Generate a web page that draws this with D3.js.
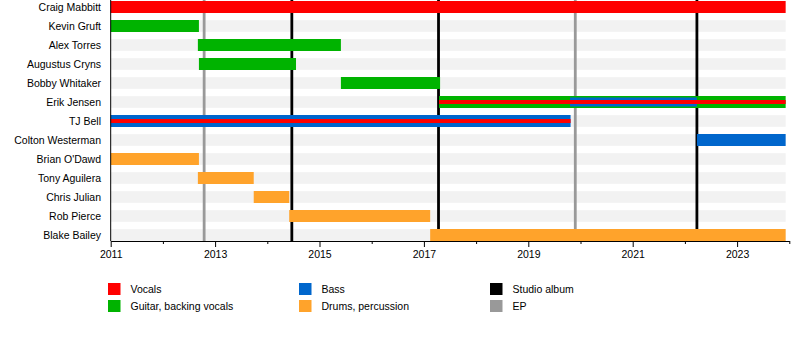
<!DOCTYPE html>
<html>
<head>
<meta charset="utf-8">
<script src="https://cdn.jsdelivr.net/npm/d3@7"></script>
<style>
  body { margin: 0; background: #fff; }
  svg { display: block; font-family: "Liberation Sans", Arial, sans-serif; }
</style>
</head>
<body>
<div id="chart"></div>
<script>
// members, top to bottom
const members = [
  "Craig Mabbitt", "Kevin Gruft", "Alex Torres", "Augustus Cryns", "Bobby Whitaker",
  "Erik Jensen", "TJ Bell", "Colton Westerman", "Brian O'Dawd", "Tony Aguilera",
  "Chris Julian", "Rob Pierce", "Blake Bailey"
];

// [member, from, till]
const vocals = [
  ["Craig Mabbitt", 2011, 2023.93],
  ["Erik Jensen", 2017.29, 2023.93],
  ["TJ Bell", 2011, 2019.81]
];
const guitar = [
  ["Kevin Gruft", 2011, 2012.69],
  ["Alex Torres", 2012.67, 2015.41],
  ["Augustus Cryns", 2012.69, 2014.55],
  ["Bobby Whitaker", 2015.41, 2017.31],
  ["Erik Jensen", 2017.29, 2023.93]
];
const bass = [
  ["Erik Jensen", 2019.80, 2022.23],
  ["TJ Bell", 2011, 2019.81],
  ["Colton Westerman", 2022.23, 2023.93]
];
const drums = [
  ["Brian O'Dawd", 2011, 2012.69],
  ["Tony Aguilera", 2012.67, 2013.74],
  ["Chris Julian", 2013.74, 2014.42],
  ["Rob Pierce", 2014.42, 2017.12],
  ["Blake Bailey", 2017.12, 2023.93]
];

const studioAlbums = [2014.47, 2017.28, 2022.23];
const eps = [2012.79, 2019.90];

const tickYears = d3.range(2011, 2025);
const labelYears = [2011, 2013, 2015, 2017, 2019, 2021, 2023];
const periodEnd = 2023.93;

const roles = [
  { key: "guitar", label: "Guitar, backing vocals", color: "#00b300", data: guitar },
  { key: "drums", label: "Drums, percussion", color: "#ffa32b", data: drums },
  { key: "bass", label: "Bass", color: "#0066cc", data: bass },
  { key: "vocals", label: "Vocals", color: "#ff0000", data: vocals }
];
const roleColor = Object.fromEntries(roles.map(r => [r.key, r.color]));

const legendItems = [
  { label: "Vocals", color: roleColor.vocals },
  { label: "Guitar, backing vocals", color: roleColor.guitar },
  { label: "Bass", color: roleColor.bass },
  { label: "Drums, percussion", color: roleColor.drums },
  { label: "Studio album", color: "#000000" },
  { label: "EP", color: "#999999" }
];

const width = 800, height = 360;
const axisY = 241;
const fontSize = "10.5px";

const svg = d3.select("#chart").append("svg")
  .attr("width", width)
  .attr("height", height);

const x = d3.scaleLinear().domain([2011, 2024]).range([110.7, 789.3]);
const y = d3.scaleBand().domain(members).range([-2.5, 244.5]);
const yc = (m) => y(m) + y.bandwidth() / 2;

// light background bars
svg.append("g").selectAll("rect")
  .data(members)
  .join("rect")
  .attr("x", x(2011))
  .attr("width", x(periodEnd) - x(2011))
  .attr("y", d => yc(d) - 5.8)
  .attr("height", 11.6)
  .attr("fill", "#f2f2f2");

// release lines (behind bars)
const events = [
  ...eps.map(d => ({ date: d, color: "#999999" })),
  ...studioAlbums.map(d => ({ date: d, color: "#000000" }))
];
svg.append("g").selectAll("line")
  .data(events)
  .join("line")
  .attr("x1", d => x(d.date))
  .attr("x2", d => x(d.date))
  .attr("y1", 0)
  .attr("y2", axisY)
  .attr("stroke", d => d.color)
  .attr("stroke-width", 2.8);

// role segments: first role of a member is the full bar, others are stripes inside
const segments = [];
roles.forEach((r, ri) => r.data.forEach(([m, from, till]) =>
  segments.push({ member: m, role: r.key, order: ri, from, till })));
const byMember = d3.group(segments, d => d.member);
byMember.forEach(list => {
  list.sort((a, b) => a.order - b.order);
  list.forEach((s, i) => {
    s.rank = i;
    s.h = i === 0 ? 12 : (s.role === "vocals" ? 4 : 9);
  });
});
segments.sort((a, b) => a.rank - b.rank);

svg.append("g").selectAll("rect")
  .data(segments)
  .join("rect")
  .attr("x", d => x(d.from))
  .attr("width", d => x(d.till) - x(d.from))
  .attr("y", d => yc(d.member) - d.h / 2)
  .attr("height", d => d.h)
  .attr("fill", d => roleColor[d.role]);

// left edge line
svg.append("line")
  .attr("x1", x(2011)).attr("x2", x(2011))
  .attr("y1", 0).attr("y2", axisY)
  .attr("stroke", "#000").attr("stroke-width", 1);

// member names
svg.append("g").selectAll("text")
  .data(members)
  .join("text")
  .attr("x", 101)
  .attr("y", d => yc(d))
  .attr("dy", "0.35em")
  .attr("text-anchor", "end")
  .style("font-size", fontSize)
  .attr("fill", "#000")
  .text(d => d);

// x axis
const xAxisG = svg.append("g")
  .attr("transform", `translate(0,${axisY})`)
  .call(d3.axisBottom(x)
    .tickValues(tickYears)
    .tickSizeOuter(0)
    .tickFormat(d => labelYears.includes(d) ? d : ""));
xAxisG.select(".domain").attr("stroke", "#000");
xAxisG.selectAll(".tick line")
  .attr("stroke", "#000")
  .attr("y2", d => labelYears.includes(d) ? 6 : 3);
xAxisG.selectAll(".tick text")
  .attr("y", 10)
  .attr("fill", "#000")
  .style("font-size", fontSize)
  .style("font-family", "Liberation Sans, Arial, sans-serif");

// legend
const legend = svg.append("g").selectAll("g")
  .data(legendItems)
  .join("g")
  .attr("transform", (d, i) => `translate(${108 + Math.floor(i / 2) * 191},${283 + (i % 2) * 17})`);
legend.append("rect")
  .attr("width", 12.5).attr("height", 12)
  .attr("fill", d => d.color);
legend.append("text")
  .attr("x", 22.5)
  .attr("y", 6.5)
  .attr("dy", "0.35em")
  .style("font-size", fontSize)
  .attr("fill", "#000")
  .text(d => d.label);
</script>
</body>
</html>
